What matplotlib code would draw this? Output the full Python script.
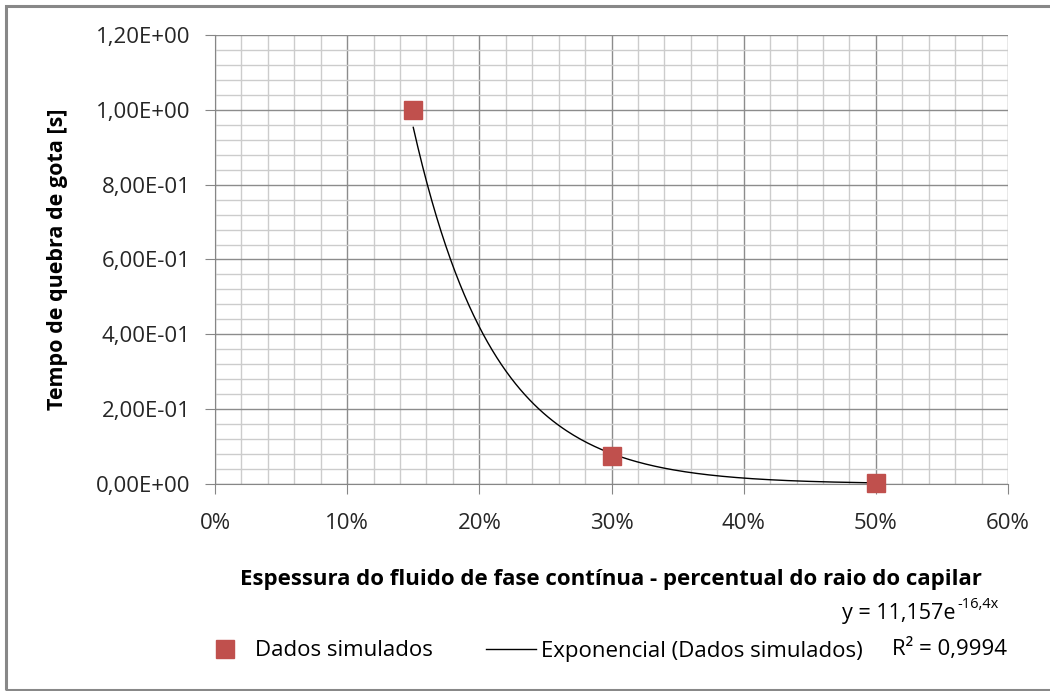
import numpy as np
import matplotlib
matplotlib.use('Agg')
import matplotlib.pyplot as plt
from matplotlib.ticker import FuncFormatter, MultipleLocator
from matplotlib.lines import Line2D
from matplotlib.patches import Rectangle

plt.rcParams['font.family'] = ['Open Sans', 'DejaVu Sans']

# dados simulados
espessura = [0.15, 0.30, 0.50]
tempo = [1.00, 0.075, 0.003]

# ajuste exponencial (linha de tendencia)
coef_a = 11.157
coef_b = -16.4
r2 = '0,9994'

W, H = 1050, 691
fig = plt.figure(figsize=(W/100, H/100), dpi=100)
fig.patches.append(Rectangle((6/W, 1/H), 1.2, 1-7/H, transform=fig.transFigure,
                             fill=False, edgecolor='#888888', lw=2.2, zorder=-1))

ax = fig.add_axes([215/W, 1-484/H, 793/W, 449/H])

xf = np.linspace(min(espessura), max(espessura), 200)
yf = coef_a*np.exp(coef_b*xf)
ax.plot(xf, yf, color='black', lw=1.0, zorder=3)
ax.plot(espessura, tempo, 's', color='#c0504d', mec='#c0504d', ms=13.5, zorder=4, clip_on=False)

ax.set_xlim(0, 0.6)
ax.set_ylim(0, 1.2)
ax.xaxis.set_major_locator(MultipleLocator(0.1))
ax.xaxis.set_minor_locator(MultipleLocator(0.02))
ax.yaxis.set_major_locator(MultipleLocator(0.2))
ax.yaxis.set_minor_locator(MultipleLocator(0.04))
ax.xaxis.set_major_formatter(FuncFormatter(lambda v, p: f'{v*100:.0f}%'))
ax.yaxis.set_major_formatter(FuncFormatter(lambda v, p: f'{v:.2E}'.replace('.', ',')))

ax.grid(which='major', color='#8c8c8c', lw=1.0)
ax.grid(which='minor', color='#cccccc', lw=1.0)
ax.set_axisbelow(True)
for s in ['top', 'right']:
    ax.spines[s].set_visible(False)
for s in ['left', 'bottom']:
    ax.spines[s].set_color('#868686')
ax.tick_params(which='major', length=7, color='#868686', labelsize=16, labelcolor='#262626')
ax.tick_params(which='minor', length=0)
ax.tick_params(axis='x', pad=14)
ax.tick_params(axis='y', pad=10.5)

fig.text(57/W, 1-259/H, 'Tempo de quebra de gota [s]', rotation=90, ha='center', va='center',
         fontsize=15.5, fontweight='bold')
fig.text(611/W, 1-580/H, 'Espessura do fluido de fase contínua - percentual do raio do capilar',
         ha='center', va='center', fontsize=16, fontweight='bold')

fig.text(956/W, 1-613/H, 'y = 11,157e', ha='right', va='center', fontsize=15.5)
fig.text(957/W, 1-605/H, '-16,4x', ha='left', va='center', fontsize=10.5)
fig.text(1007/W, 1-649/H, f'R² = {r2}', ha='right', va='center', fontsize=16)

handles = [Line2D([], [], ls='none', marker='s', color='#c0504d', ms=13),
           Line2D([], [], color='black', lw=1.0)]
fig.legend(handles, ['Dados simulados', 'Exponencial (Dados simulados)'], ncol=2,
           loc='center left', bbox_to_anchor=(200/W, 1-651/H), frameon=False,
           fontsize=16, handlelength=2.25, handletextpad=0.23, columnspacing=2.4,
           borderaxespad=0, borderpad=0)

fig.savefig('out.png', dpi=100)
